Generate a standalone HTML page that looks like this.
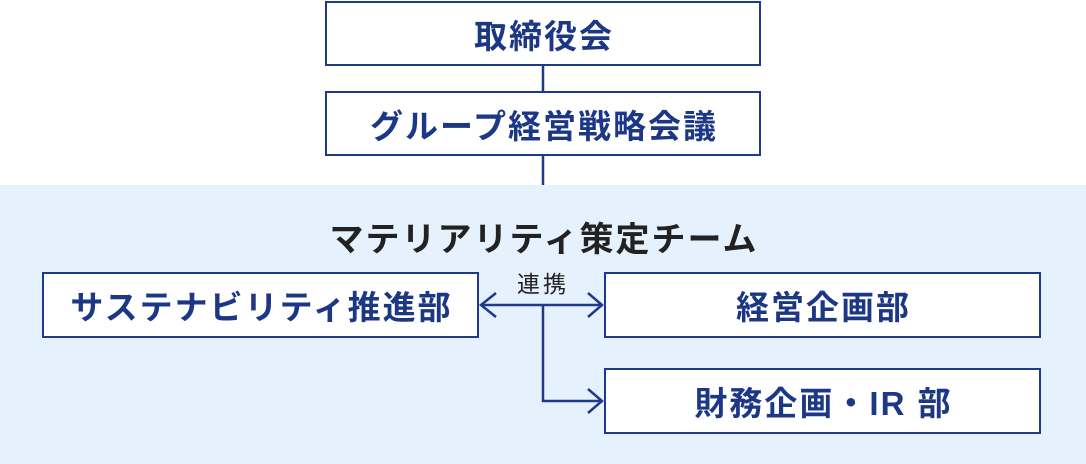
<!DOCTYPE html>
<html><head><meta charset="utf-8"><style>
body{margin:0;width:1086px;height:464px;overflow:hidden;background:#fff;font-family:"Liberation Sans","Noto Sans CJK JP",sans-serif;position:relative}
.bg{position:absolute;left:0;top:185px;width:1086px;height:279px;background:#e5f1fc}
.box{position:absolute;box-sizing:border-box;border:2px solid #1f3a8a;background:#fff;color:#1d3787;font-weight:bold;font-size:33px;display:flex;align-items:center;justify-content:center;letter-spacing:2px;padding-left:2px}
.t{position:absolute;color:#222;font-weight:bold}
</style></head><body>
<div class="bg"></div>
<svg style="position:absolute;left:0;top:0" width="1086" height="464">
<g stroke="#1f3a8a" stroke-width="2.5" fill="none">
<line x1="543" y1="65" x2="543" y2="91"/>
<line x1="543" y1="155" x2="543" y2="185"/>
<line x1="481" y1="305" x2="602" y2="305"/>
<polyline points="496,293 481,305 496,317"/>
<polyline points="588,293 602,305 588,317"/>
<polyline points="543,305 543,401 602,401"/>
<polyline points="588,389 602,401 588,413"/>
</g></svg>
<div class="box" style="left:325px;top:1px;width:436px;height:65px">取締役会</div>
<div class="box" style="left:325px;top:91px;width:436px;height:65px">グループ経営戦略会議</div>
<div class="t" style="left:0;width:1086px;text-align:center;top:212px;font-size:34px;letter-spacing:2px;padding-left:2px;box-sizing:border-box">マテリアリティ策定チーム</div>
<div class="t" style="left:493px;width:100px;text-align:center;top:265px;font-size:23px;font-weight:normal;letter-spacing:3px">連携</div>
<div class="box" style="left:42px;top:272px;width:437px;height:66px">サステナビリティ推進部</div>
<div class="box" style="left:604px;top:272px;width:437px;height:66px">経営企画部</div>
<div class="box" style="left:604px;top:368px;width:437px;height:66px">財務企画・IR 部</div>
</body></html>
